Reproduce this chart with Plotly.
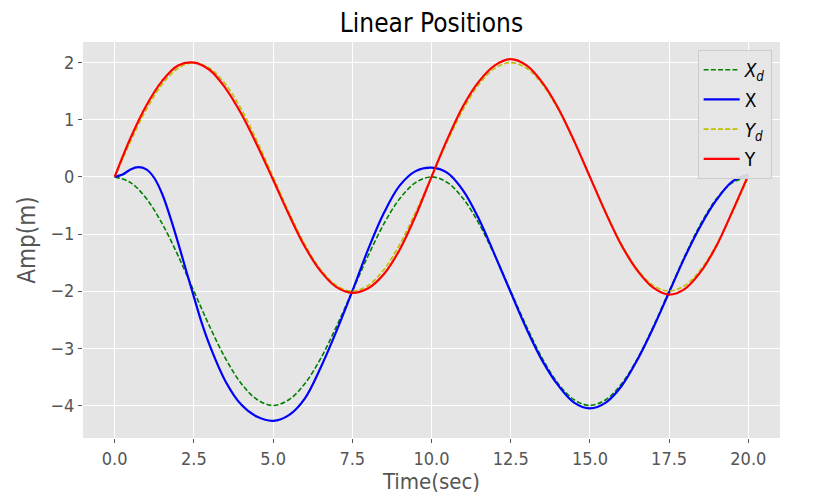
import plotly.graph_objects as go

# ---- data ----
t_half = [0, 0.5, 1, 1.5, 2, 2.5, 3, 3.5, 4, 4.5, 5, 5.5, 6, 6.5, 7, 7.5, 8, 8.5, 9, 9.5,
          10, 10.5, 11, 11.5, 12, 12.5, 13, 13.5, 14, 14.5, 15, 15.5, 16, 16.5, 17, 17.5,
          18, 18.5, 19, 19.5, 20]

x_desired = [0, -0.10, -0.38, -0.82, -1.38, -2.0, -2.62, -3.18, -3.62, -3.90, -4.0,
             -3.90, -3.62, -3.18, -2.62, -2.0, -1.38, -0.82, -0.38, -0.10, 0,
             -0.10, -0.38, -0.82, -1.38, -2.0, -2.62, -3.18, -3.62, -3.90, -4.0,
             -3.90, -3.62, -3.18, -2.62, -2.0, -1.38, -0.82, -0.38, -0.10, 0]

y_desired = [0, 0.62, 1.18, 1.62, 1.90, 2.0, 1.90, 1.62, 1.18, 0.62, 0,
             -0.62, -1.18, -1.62, -1.90, -2.0, -1.90, -1.62, -1.18, -0.62, 0,
             0.62, 1.18, 1.62, 1.90, 2.0, 1.90, 1.62, 1.18, 0.62, 0,
             -0.62, -1.18, -1.62, -1.90, -2.0, -1.90, -1.62, -1.18, -0.62, 0]

t_x = [0, 0.25, 0.5, 0.75, 1.0, 1.25, 1.5, 1.75, 2.0, 2.25, 2.5, 2.75, 3.0, 3.5, 4.0, 4.5,
       5.0, 5.5, 6.0, 6.5, 7.0, 7.5, 8.0, 8.5, 9.0, 9.5, 10.0, 10.5, 11.0, 11.5, 12.0,
       12.5, 13.0, 13.5, 14.0, 14.5, 15.0, 15.5, 16.0, 16.5, 17.0, 17.5, 18.0, 18.5,
       19.0, 19.5, 20.0]
x_actual = [0, 0.04, 0.13, 0.17, 0.13, -0.02, -0.30, -0.70, -1.15, -1.63, -2.10, -2.56,
            -2.95, -3.58, -3.99, -4.20, -4.27, -4.17, -3.88, -3.34, -2.70, -2.0, -1.27,
            -0.63, -0.15, 0.10, 0.16, 0.07, -0.24, -0.74, -1.37, -2.02, -2.66, -3.22,
            -3.65, -3.95, -4.05, -3.95, -3.66, -3.20, -2.64, -2.02, -1.40, -0.85, -0.40,
            -0.08, 0.04]

y_actual = [0, 0.68, 1.25, 1.68, 1.95, 2.0, 1.87, 1.55, 1.10, 0.55, -0.05,
            -0.66, -1.22, -1.65, -1.93, -2.03, -1.95, -1.70, -1.27, -0.68, 0.0,
            0.66, 1.24, 1.67, 1.95, 2.06, 1.95, 1.65, 1.20, 0.63, 0.0,
            -0.63, -1.20, -1.64, -1.94, -2.06, -1.96, -1.66, -1.20, -0.60, 0.03]

x_tick_vals = [0, 2.5, 5, 7.5, 10, 12.5, 15, 17.5, 20]
x_tick_text = ["0.0", "2.5", "5.0", "7.5", "10.0", "12.5", "15.0", "17.5", "20.0"]
y_tick_vals = [2, 1, 0, -1, -2, -3, -4]
y_tick_text = ["2", "1", "0", "\u22121", "\u22122", "\u22123", "\u22124"]

FONT = "DejaVu Sans Condensed, Liberation Sans Narrow, DejaVu Sans, sans-serif"
GRAY = "#555555"
DASH = "5px,2.2px"

fig = go.Figure()
fig.add_trace(go.Scatter(x=t_half, y=x_desired, mode="lines", name="<i>X</i><sub><i>d</i></sub>",
                         legendgroup="a",
                         line=dict(color="#008000", width=1.6, dash=DASH, shape="spline")))
fig.add_trace(go.Scatter(x=t_x, y=x_actual, mode="lines", name="X", legendgroup="b",
                         line=dict(color="#0000FF", width=2.2, shape="spline")))
fig.add_trace(go.Scatter(x=t_half, y=y_desired, mode="lines", name="<i>Y</i><sub><i>d</i></sub>",
                         legendgroup="c",
                         line=dict(color="#BFBF00", width=1.6, dash=DASH, shape="spline")))
fig.add_trace(go.Scatter(x=t_half, y=y_actual, mode="lines", name="Y", legendgroup="d",
                         line=dict(color="#FF0000", width=2.2, shape="spline")))

fig.update_layout(
    width=830, height=498,
    margin=dict(l=75, r=58, t=34, b=68),
    paper_bgcolor="white",
    plot_bgcolor="#E5E5E5",
    font=dict(family=FONT, color=GRAY, size=18),
    title=dict(text="Linear Positions", xref="paper", x=0.5, xanchor="center",
               y=0.97, yanchor="middle",
               font=dict(family=FONT, size=26, color="black")),
    showlegend=True,
    legend=dict(x=0.988, y=0.98, xanchor="right", yanchor="top",
                bgcolor="rgba(229,229,229,0.9)", bordercolor="#CCCCCC", borderwidth=1,
                tracegroupgap=2, itemwidth=36,
                font=dict(family=FONT, size=19, color="black")),
)
fig.update_xaxes(range=[-1, 21], tickvals=x_tick_vals, ticktext=x_tick_text,
                 showgrid=True, gridcolor="white", gridwidth=1.2, zeroline=False,
                 ticks="outside", ticklen=4, tickcolor=GRAY, tickfont=dict(size=18, color=GRAY),
                 title=dict(text="Time(sec)", font=dict(size=22, color=GRAY), standoff=2),
                 showline=False)
fig.update_yaxes(range=[-4.57, 2.36], tickvals=y_tick_vals, ticktext=y_tick_text,
                 showgrid=True, gridcolor="white", gridwidth=1.2, zeroline=False,
                 ticks="outside", ticklen=4, tickcolor=GRAY, tickfont=dict(size=18, color=GRAY),
                 title=dict(text="Amp(m)", font=dict(size=24, color=GRAY), standoff=8),
                 showline=False)

fig.write_html("out.html")
